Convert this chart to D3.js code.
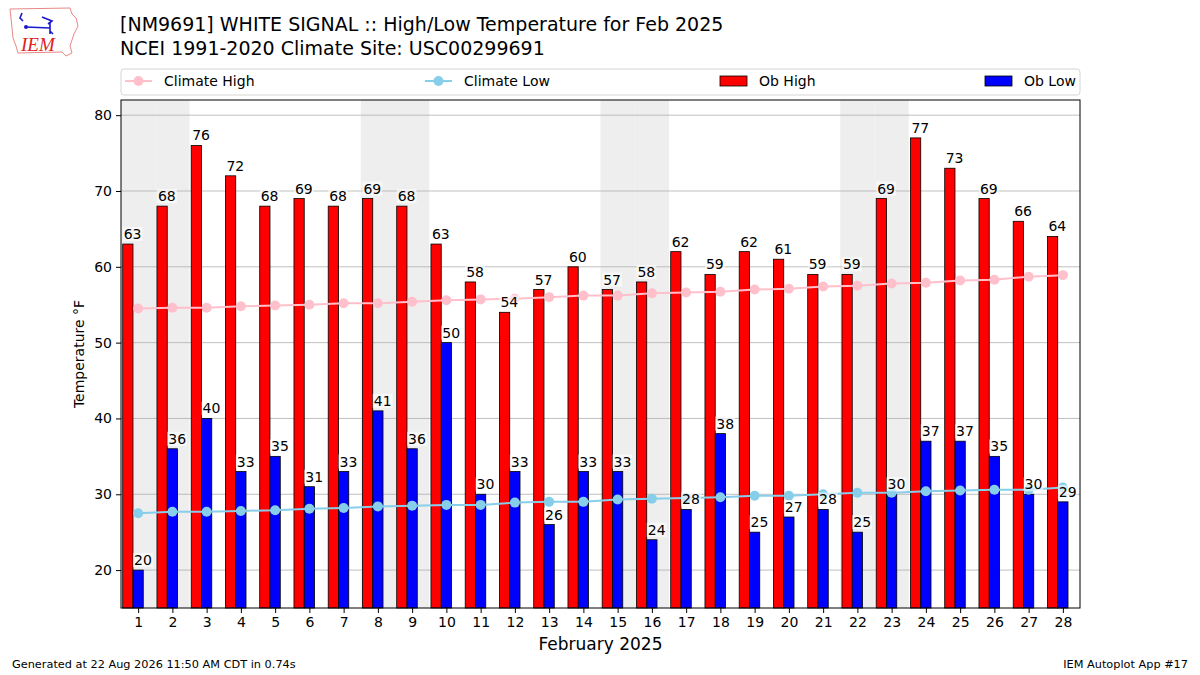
<!DOCTYPE html>
<html>
<head>
<meta charset="utf-8">
<script src="https://cdn.jsdelivr.net/npm/d3@7"></script>
<style>
  body { margin: 0; background: #fff; }
  svg { font-family: "DejaVu Sans", sans-serif; }
</style>
</head>
<body>
<svg id="chart" width="1200" height="675"></svg>
<script>
// observed daily values, Feb 2025
const days = d3.range(1, 29);
const obHigh = [63, 68, 76, 72, 68, 69, 68, 69, 68, 63, 58, 54, 57, 60, 57, 58, 62, 59, 62, 61, 59, 59, 69, 77, 73, 69, 66, 64];
const obLow = [20, 36, 40, 33, 35, 31, 33, 41, 36, 50, 30, 33, 26, 33, 33, 24, 28, 38, 25, 27, 28, 25, 30, 37, 37, 35, 30, 29];
// NCEI 1991-2020 climatology
const climHigh = [54.5, 54.6, 54.6, 54.8, 54.9, 55.0, 55.2, 55.2, 55.4, 55.6, 55.7, 55.8, 56.0, 56.2, 56.2, 56.5, 56.6, 56.7, 57.0, 57.1, 57.4, 57.5, 57.8, 57.9, 58.2, 58.3, 58.7, 58.9];
const climLow = [27.5, 27.7, 27.7, 27.8, 27.9, 28.1, 28.2, 28.4, 28.5, 28.6, 28.6, 28.9, 29.0, 29.0, 29.3, 29.4, 29.5, 29.6, 29.8, 29.8, 30.0, 30.2, 30.2, 30.4, 30.5, 30.6, 30.6, 30.9];
const yTicks = [20, 30, 40, 50, 60, 70, 80];

const svg = d3.select('#chart');
const pLeft = 121, pRight = 1080, pTop = 100, pBottom = 608;
const fs = 14;

const x = d3.scaleLinear().domain([0.5, 28.5]).range([pLeft, pRight]);
const y = d3.scaleLinear().domain([15, 82]).range([pBottom, pTop]);
const barW = x(0.3) - x(0);

// weekend shading
const weekend = days.filter(d => {
    const wd = new Date(2025, 1, d).getDay();
    return wd === 0 || wd === 6;
});
svg.append('g').selectAll('rect').data(weekend).join('rect')
    .attr('x', d => x(d - 0.5))
    .attr('y', pTop)
    .attr('width', x(1) - x(0))
    .attr('height', pBottom - pTop)
    .attr('fill', '#eeeeee');

// grid
svg.append('g').selectAll('line').data(yTicks).join('line')
    .attr('x1', pLeft).attr('x2', pRight)
    .attr('y1', d => y(d)).attr('y2', d => y(d))
    .attr('stroke', '#b0b0b0').attr('stroke-width', 0.8);

// bars
svg.append('g').selectAll('rect').data(days).join('rect')
    .attr('x', d => x(d - 0.45))
    .attr('y', (d, i) => y(obHigh[i]))
    .attr('width', barW)
    .attr('height', (d, i) => pBottom - y(obHigh[i]))
    .attr('fill', '#ff0000').attr('stroke', '#000').attr('stroke-width', 0.8);

svg.append('g').selectAll('rect').data(days).join('rect')
    .attr('x', d => x(d - 0.15))
    .attr('y', (d, i) => y(obLow[i]))
    .attr('width', barW)
    .attr('height', (d, i) => pBottom - y(obLow[i]))
    .attr('fill', '#0000ff').attr('stroke', '#000').attr('stroke-width', 0.8);

// climate lines
function climLine(vals, color) {
    const line = d3.line().x((v, i) => x(days[i])).y(v => y(v));
    svg.append('path').datum(vals)
        .attr('d', line)
        .attr('fill', 'none').attr('stroke', color).attr('stroke-width', 2);
    svg.append('g').selectAll('circle').data(vals).join('circle')
        .attr('cx', (v, i) => x(days[i]))
        .attr('cy', v => y(v))
        .attr('r', 5)
        .attr('fill', color);
}
climLine(climHigh, '#ffc0cb');
climLine(climLow, '#87ceeb');

// value labels
function barLabels(vals, offset) {
    const g = svg.append('g');
    vals.forEach((v, i) => {
        const tx = x(days[i] + offset) + 1;
        const ty = y(v) - 5;
        const t = g.append('text')
            .attr('x', tx).attr('y', ty)
            .attr('font-size', fs).attr('fill', '#000')
            .text(v);
        const bb = t.node().getBBox();
        g.insert('rect', () => t.node())
            .attr('x', bb.x - 1).attr('y', bb.y + 1)
            .attr('width', bb.width + 2).attr('height', bb.height - 2)
            .attr('fill', '#fff').attr('opacity', 0.6);
    });
}
barLabels(obHigh, -0.45);
barLabels(obLow, -0.15);

// axes frame
svg.append('rect')
    .attr('x', pLeft).attr('y', pTop)
    .attr('width', pRight - pLeft).attr('height', pBottom - pTop)
    .attr('fill', 'none').attr('stroke', '#000').attr('stroke-width', 1);

const xAxis = svg.append('g')
    .attr('transform', `translate(0,${pBottom})`)
    .call(d3.axisBottom(x).tickValues(days).tickFormat(d3.format('d')).tickSize(5).tickPadding(4));
const yAxis = svg.append('g')
    .attr('transform', `translate(${pLeft},0)`)
    .call(d3.axisLeft(y).tickValues(yTicks).tickSize(5).tickPadding(4));
[xAxis, yAxis].forEach(a => {
    a.select('.domain').remove();
    a.selectAll('text').attr('font-size', fs).attr('fill', '#000').attr('font-family', '"DejaVu Sans"');
    a.selectAll('line').attr('stroke', '#000');
});

svg.append('text')
    .attr('transform', `translate(84,${(pTop + pBottom) / 2}) rotate(-90)`)
    .attr('text-anchor', 'middle').attr('font-size', fs)
    .text('Temperature °F');
svg.append('text')
    .attr('x', (pLeft + pRight) / 2).attr('y', 650)
    .attr('text-anchor', 'middle').attr('font-size', 17)
    .text('February 2025');

// titles
svg.append('text').attr('x', 120).attr('y', 31).attr('font-size', 19)
    .text('[NM9691] WHITE SIGNAL :: High/Low Temperature for Feb 2025');
svg.append('text').attr('x', 120).attr('y', 55).attr('font-size', 19)
    .text('NCEI 1991-2020 Climate Site: USC00299691');

// legend
const lg = svg.append('g');
lg.append('rect')
    .attr('x', pLeft).attr('y', 69).attr('width', pRight - pLeft).attr('height', 26)
    .attr('rx', 3).attr('fill', '#fff').attr('stroke', '#d5d5d5');
const legendItems = [
    { label: 'Climate High', type: 'line', color: '#ffc0cb', x0: 125 },
    { label: 'Climate Low', type: 'line', color: '#87ceeb', x0: 425 },
    { label: 'Ob High', type: 'patch', color: '#ff0000', x0: 720 },
    { label: 'Ob Low', type: 'patch', color: '#0000ff', x0: 985 }
];
legendItems.forEach(it => {
    if (it.type === 'line') {
        lg.append('line').attr('x1', it.x0).attr('x2', it.x0 + 27)
            .attr('y1', 81).attr('y2', 81)
            .attr('stroke', it.color).attr('stroke-width', 2);
        lg.append('circle').attr('cx', it.x0 + 13.5).attr('cy', 81).attr('r', 5).attr('fill', it.color);
    } else {
        lg.append('rect').attr('x', it.x0).attr('y', 76).attr('width', 27).attr('height', 10)
            .attr('fill', it.color).attr('stroke', '#000').attr('stroke-width', 0.8);
    }
    lg.append('text').attr('x', it.x0 + 39).attr('y', 86).attr('font-size', fs).text(it.label);
});

// footer
svg.append('text').attr('x', 12).attr('y', 668).attr('font-size', 11.3)
    .text('Generated at 22 Aug 2026 11:50 AM CDT in 0.74s');
svg.append('text').attr('x', 1188).attr('y', 668).attr('font-size', 11.3)
    .attr('text-anchor', 'end').text('IEM Autoplot App #17');

// logo (simplified)
const logo = svg.append('g');
logo.append('path')
    .attr('d', 'M10,9 L70,8 L72,14 L76,18 L78,26 L74,34 L72,40 L70,46 L72,53 L66,56 L62,52 L18,53 L16,46 L13,38 L12,28 Z')
    .attr('fill', 'none').attr('stroke', '#e88888').attr('stroke-width', 1);
logo.append('path')
    .attr('d', 'M22,13 L20,18 L23,21 M26,27 L50,28 M42,17 L52,21 L48,24 M50,22 L50,34 M50,31 L53,34')
    .attr('fill', 'none').attr('stroke', '#1a1acc').attr('stroke-width', 1.6);
logo.append('circle').attr('cx', 26).attr('cy', 27).attr('r', 2).attr('fill', '#1a1acc');
logo.append('text').attr('x', 21).attr('y', 51)
    .attr('font-family', '"Liberation Serif", serif').attr('font-style', 'italic')
    .attr('font-size', 19).attr('fill', '#dd2222').text('IEM');
</script>
</body>
</html>
